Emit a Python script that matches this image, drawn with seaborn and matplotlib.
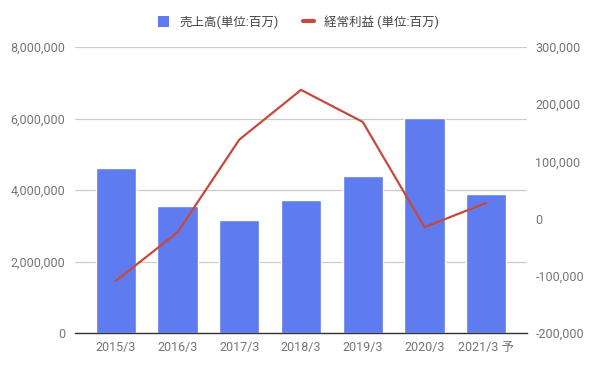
import numpy as np
import pandas as pd
import matplotlib
matplotlib.use('Agg')
import matplotlib.pyplot as plt
import seaborn as sns
from matplotlib.patches import Patch
from matplotlib.lines import Line2D
from matplotlib.ticker import FuncFormatter

sns.set_theme(style='white')
plt.rcParams['font.family'] = ['Roboto', 'Noto Sans CJK JP', 'DejaVu Sans']

# データ
periods = ['2015/3', '2016/3', '2017/3', '2018/3', '2019/3', '2020/3', '2021/3 予']
sales = [4610000, 3550000, 3160000, 3720000, 4390000, 6010000, 3890000]
ordinary_profit = [-109000, -24000, 138000, 225000, 169000, -15000, 27500]

label_sales = '売上高(単位:百万)'
label_profit = '経常利益 (単位:百万)'

bar_color = '#5f7bf0'
line_color = '#c8493c'
text_color = '#757575'

df = pd.DataFrame({'期': periods, '売上高': sales, '経常利益': ordinary_profit})

fig = plt.figure(figsize=(5.97, 3.69), dpi=100)
ax = fig.add_axes([75 / 597, 36 / 369, 452 / 597, 286 / 369])

sns.barplot(data=df, x='期', y='売上高', color=bar_color, width=0.65,
            saturation=1, ax=ax, zorder=2)
ax.set_ylim(0, 8000000)
ax.set_yticks([0, 2000000, 4000000, 6000000, 8000000])
ax.yaxis.set_major_formatter(FuncFormatter(lambda v, p: f'{int(v):,}'))
ax.grid(axis='y', color='#cccccc', linewidth=0.9, zorder=0)
ax.set_axisbelow(True)
ax.set_xlim(-0.66, 6.66)
ax.set_xlabel('')
ax.set_ylabel('')

ax2 = ax.twinx()
sns.lineplot(data=df, x='期', y='経常利益', color=line_color, linewidth=1.6,
             ax=ax2, sort=False)
ax2.set_ylim(-200000, 300000)
ax2.set_yticks([-200000, -100000, 0, 100000, 200000, 300000])
ax2.yaxis.set_major_formatter(FuncFormatter(lambda v, p: f'{int(v):,}'))
ax2.set_ylabel('')
ax2.set_xlim(-0.66, 6.66)

for a in (ax, ax2):
    for s in a.spines.values():
        s.set_visible(False)
    a.tick_params(length=0, colors=text_color, labelsize=9)
ax.tick_params(axis='y', pad=7)
ax.tick_params(axis='x', pad=6)
ax2.tick_params(axis='y', pad=6)
ax.spines['bottom'].set_visible(True)
ax.spines['bottom'].set_color('#333333')
ax.spines['bottom'].set_linewidth(1.0)

handles = [Patch(facecolor=bar_color, edgecolor='none'),
           Line2D([0], [0], color=line_color, linewidth=3)]
fig.legend(handles, [label_sales, label_profit], loc='center',
           bbox_to_anchor=(0.5, 1 - 22 / 369), ncol=2, frameon=False,
           fontsize=9, labelcolor='#444444', handlelength=0.9,
           handleheight=0.9, columnspacing=2.0, handletextpad=0.8)

fig.savefig('out.png', dpi=100)
